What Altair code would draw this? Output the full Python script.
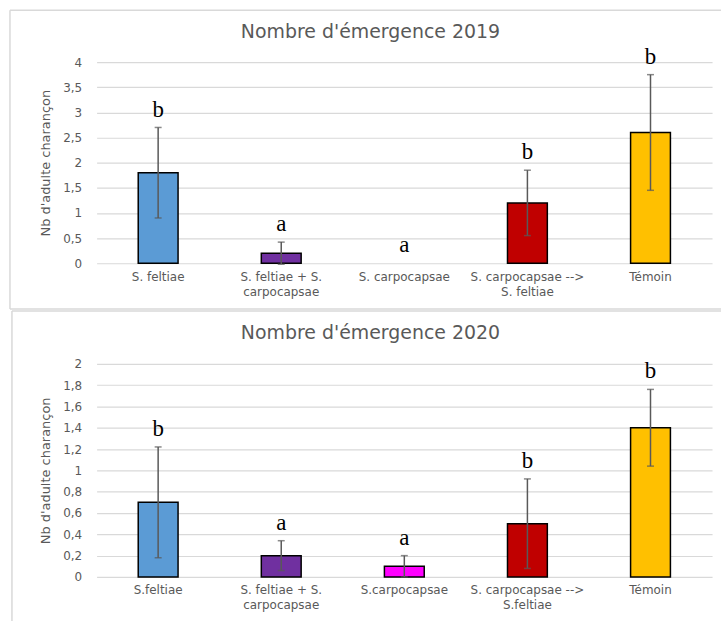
import altair as alt
import pandas as pd

# ---- data ----
cats_2019 = ["S. feltiae", "S. feltiae + S.\ncarpocapsae", "S. carpocapsae",
             "S. carpocapsae -->\nS. feltiae", "Témoin"]
values_2019 = [1.8, 0.2, 0.0, 1.2, 2.6]
errors_2019 = [0.9, 0.22, 0.0, 0.65, 1.15]
letters_2019 = ["b", "a", "a", "b", "b"]
colors_2019 = ["#5B9BD5", "#7030A0", "#FF00FF", "#C00000", "#FFC000"]
ticks_2019 = [0, 0.5, 1, 1.5, 2, 2.5, 3, 3.5, 4]

cats_2020 = ["S.feltiae", "S. feltiae + S.\ncarpocapsae", "S.carpocapsae",
             "S. carpocapsae -->\nS.feltiae", "Témoin"]
values_2020 = [0.7, 0.2, 0.1, 0.5, 1.4]
errors_2020 = [0.52, 0.14, 0.1, 0.42, 0.36]
letters_2020 = ["b", "a", "a", "b", "b"]
colors_2020 = ["#5B9BD5", "#7030A0", "#FF00FF", "#C00000", "#FFC000"]
ticks_2020 = [0, 0.2, 0.4, 0.6, 0.8, 1, 1.2, 1.4, 1.6, 1.8, 2]

y_title = "Nb d'adulte charançon"
GRAY = "#595959"
SANS = "DejaVu Sans"
W = 618


def frame_lines(left, right, top, bottom=None):
    one = alt.Data(values=[{"k": 1}])
    style = dict(color="#D9D9D9", strokeWidth=1.5)
    parts = [
        alt.Chart(one).mark_rule(**style).encode(
            x=alt.value(left), x2=alt.value(right), y=alt.value(top)),
    ]
    if bottom is not None:
        parts.append(alt.Chart(one).mark_rule(**style).encode(
            x=alt.value(left), x2=alt.value(right), y=alt.value(bottom)))
        parts.append(alt.Chart(one).mark_rule(**style).encode(
            x=alt.value(left), y=alt.value(top), y2=alt.value(bottom)))
    else:
        parts.append(alt.Chart(one).mark_rule(**style).encode(
            x=alt.value(left), y=alt.value(top), y2=alt.value(top + 330)))
    return parts


def panel(cats, values, errors, letters, colors, ticks, title, H, border):
    df = pd.DataFrame({
        "cat": cats,
        "val": values,
        "err": errors,
        "letter": letters,
    })
    df["lo"] = df["val"] - df["err"]
    df["hi"] = df["val"] + df["err"]

    base = alt.Chart(df)
    x_axis = alt.Axis(title=None, labelAngle=0, domain=False, ticks=False, tickSize=0,
                      labelExpr="split(datum.label, '\\n')",
                      labelPadding=8, labelFont=SANS, labelFontSize=12,
                      labelColor=GRAY, labelLineHeight=15, grid=False,
                      labelOverlap=False)
    x_scale = alt.Scale(paddingInner=0, paddingOuter=0)

    def X():
        return alt.X("cat:N", sort=cats, scale=x_scale, axis=x_axis)

    y_axis = alt.Axis(values=ticks, domain=False, ticks=False, tickSize=0,
                      labelExpr="replace(format(datum.value, '~g'), '.', ',')",
                      labelPadding=15, labelFont=SANS, labelFontSize=12,
                      labelColor=GRAY, gridColor="#D9D9D9", gridWidth=1.2,
                      labelOverlap=False,
                      title=y_title, titleFont=SANS, titleFontSize=13,
                      titleFontWeight="normal", titleColor=GRAY,
                      titleX=-51, titleY=H / 2, titleAngle=-90,
                      titleAlign="center", titleBaseline="middle")
    y_scale = alt.Scale(domain=[0, ticks[-1]], nice=False)

    def Y(field):
        return alt.Y(field + ":Q", scale=y_scale, axis=y_axis, title=y_title)

    bars = base.transform_filter("datum.val > 0").mark_bar(
        size=40, stroke="black", strokeWidth=1.5
    ).encode(
        x=X(), y=Y("val"),
        color=alt.Color("cat:N", scale=alt.Scale(domain=cats, range=colors), legend=None),
    )
    eb = base.transform_filter("datum.err > 0")
    rule = eb.mark_rule(color=GRAY, strokeWidth=1.5).encode(
        x=X(), y=Y("lo"), y2="hi:Q")
    cap_hi = eb.mark_tick(color=GRAY, thickness=1.5, size=7, orient="horizontal").encode(
        x=X(), y=Y("hi"))
    cap_lo = eb.mark_tick(color=GRAY, thickness=1.5, size=7, orient="horizontal").encode(
        x=X(), y=Y("lo"))
    txt = base.mark_text(font="Liberation Serif", fontSize=23, color="black",
                         baseline="alphabetic", dy=-11).encode(
        x=X(), y=Y("hi"), text="letter:N")

    layers = frame_lines(*border) + [bars, rule, cap_hi, cap_lo, txt]
    return alt.layer(*layers).properties(
        width=W, height=H,
        title=alt.TitleParams(title, font=SANS, fontSize=19, fontWeight="normal",
                              color=GRAY, anchor="middle", offset=14, dx=-34, dy=47),
    )


top = panel(cats_2019, values_2019, errors_2019, letters_2019, colors_2019,
            ticks_2019, "Nombre d'émergence 2019", 202, (-87, 627, -52, 248))
bottom = panel(cats_2020, values_2020, errors_2020, letters_2020, colors_2020,
               ticks_2020, "Nombre d'émergence 2020", 214, (-85, 627, -53, None))

chart = alt.vconcat(top, bottom, spacing=101, bounds="flush").resolve_scale(
    color="independent", x="independent", y="independent"
).properties(
    padding={"left": 8, "top": 7, "right": 0, "bottom": 0},
    background="white",
).configure_view(stroke="transparent")

chart.save("out.html", embed_options={"renderer": "svg", "actions": False})
